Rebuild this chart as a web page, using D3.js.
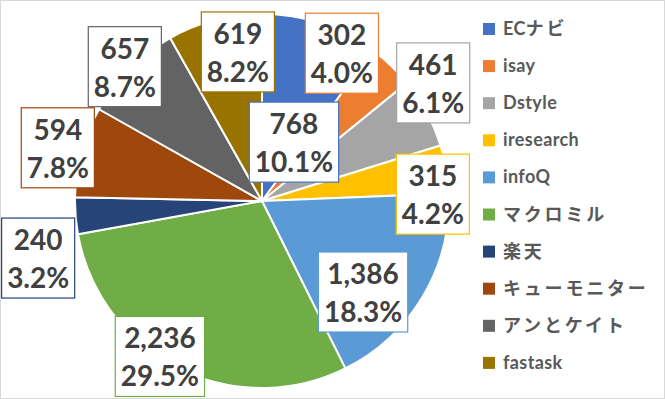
<!DOCTYPE html>
<html>
<head>
<meta charset="utf-8">
<script src="https://cdn.jsdelivr.net/npm/d3@7"></script>
<style>
  body { margin: 0; background: #fff; }
</style>
</head>
<body>
<div id="chart"></div>
<script>
var categories = ["ECナビ", "isay", "Dstyle", "iresearch", "infoQ", "マクロミル", "楽天", "キューモニター", "アンとケイト", "fastask"];
var values = [768, 302, 461, 315, 1386, 2236, 240, 594, 657, 619];
var colors = ["#4472C4", "#ED7D31", "#A5A5A5", "#FFC000", "#5B9BD5", "#70AD47", "#264478", "#9E480E", "#636363", "#997300"];

// where each data label box sits: [distance from center, angle in degrees clockwise from top]
var labelPlace = [[67, 28.5], [168, 28.4], [208, 55.4], [171, 87.7], [136, 132], [186, 213.3], [231, 255.7], [211, 284.6], [192, 314.4], [151, 350.8]];

function drawChart() {
    var width = 665;
    var height = 399;
    var cx = 262, cy = 201, radius = 187;

    var svg = d3.select("#chart").append("svg")
        .attr("width", width)
        .attr("height", height);

    svg.append("rect")
        .attr("x", 0.5).attr("y", 0.5)
        .attr("width", width - 1).attr("height", height - 1)
        .attr("fill", "white")
        .attr("stroke", "#d9d9d9");

    var total = d3.sum(values);
    var data = categories.map(function(c, i) {
        return { name: c, value: values[i], color: colors[i], place: labelPlace[i] };
    });

    var pie = d3.pie().value(function(d) { return d.value; }).sort(null);
    var arc = d3.arc().innerRadius(0).outerRadius(radius);

    var g = svg.append("g").attr("transform", "translate(" + cx + "," + cy + ")");

    g.selectAll("path.slice")
        .data(pie(data))
        .enter().append("path")
        .attr("class", "slice")
        .attr("d", arc)
        .attr("fill", function(d) { return d.data.color; })
        .attr("stroke", "white")
        .attr("stroke-width", 2)
        .attr("stroke-linejoin", "round");

    var fmt = d3.format(",");
    var pct = d3.format(".1%");

    var labels = g.selectAll("g.label")
        .data(pie(data))
        .enter().append("g")
        .attr("class", "label")
        .attr("transform", function(d) {
            var a = d.data.place[1] * Math.PI / 180;
            var p = d3.arc().innerRadius(d.data.place[0]).outerRadius(d.data.place[0])
                .startAngle(a).endAngle(a).centroid();
            return "translate(" + p[0] + "," + p[1] + ")";
        });

    var box = labels.append("rect")
        .attr("fill", "white")
        .attr("stroke", function(d) { return d.data.color; })
        .attr("stroke-width", 1.2);

    var txt = labels.append("text")
        .attr("text-anchor", "middle")
        .style("font-family", "Lato, 'Open Sans', sans-serif")
        .style("font-weight", "bold")
        .style("font-size", "28px")
        .attr("fill", "#404040");

    txt.append("tspan").attr("x", 0).attr("y", -8)
        .text(function(d) { return fmt(d.data.value); });
    txt.append("tspan").attr("x", 0).attr("y", 30)
        .text(function(d) { return pct(d.data.value / total); });

    box.each(function() {
        var t = d3.select(this.parentNode).select("text").node();
        var w = 0;
        d3.select(t).selectAll("tspan").each(function() {
            w = Math.max(w, this.getComputedTextLength());
        });
        w = w + 11;
        d3.select(this)
            .attr("x", -w / 2).attr("y", -40)
            .attr("width", w).attr("height", 80);
    });

    // legend
    var legend = svg.append("g").attr("transform", "translate(483,29)");
    var rows = legend.selectAll("g")
        .data(data)
        .enter().append("g")
        .attr("transform", function(d, i) { return "translate(0," + (i * 37.1) + ")"; });

    rows.append("rect")
        .attr("x", 0).attr("y", -6)
        .attr("width", 12).attr("height", 12)
        .attr("fill", function(d) { return d.color; });

    var lt = rows.append("text")
        .attr("x", 20).attr("y", 6)
        .style("font-size", "18px")
        .attr("fill", "#595959");

    lt.each(function(d) {
        var el = d3.select(this);
        var runs = d.name.match(/[\x00-\x7F]+|[^\x00-\x7F]+/g);
        runs.forEach(function(r) {
            var cjk = /[^\x00-\x7F]/.test(r);
            el.append("tspan")
                .style("font-family", cjk ? "'Noto Sans CJK JP', sans-serif" : "Lato, sans-serif")
                .style("font-weight", "bold")
                .style("font-size", cjk ? "18px" : "18px")
                .style("letter-spacing", cjk ? "2.8px" : "0.4px")
                .text(r);
        });
    });
}

drawChart();
</script>
</body>
</html>
